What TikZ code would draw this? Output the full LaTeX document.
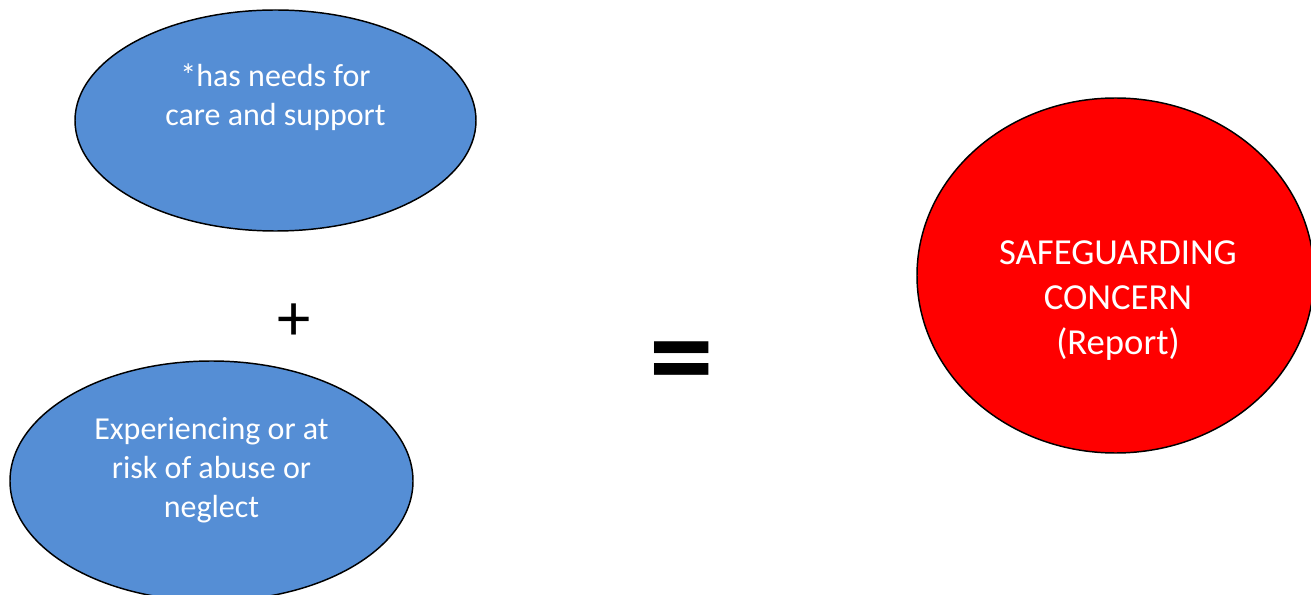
\documentclass[tikz,border=0pt]{standalone}
\usepackage{fontspec}
\setmainfont{Carlito}
\usetikzlibrary{shapes.geometric}
\definecolor{blueFill}{RGB}{85,142,213}
\definecolor{redFill}{RGB}{255,0,0}
\tikzset{
  blob/.style={ellipse, draw=black, line width=1.1pt, inner sep=0pt},
  bluetext/.style={text=white, align=center, inner sep=0pt, font=\fontsize{24pt}{29.25pt}\selectfont},
  redtext/.style={text=white, align=center, inner sep=0pt, font=\fontsize{27.5pt}{33.75pt}\selectfont},
  opsign/.style={text=black, inner sep=0pt}
}
\begin{document}
\begin{tikzpicture}[x=0.75pt,y=-0.75pt]
\useasboundingbox (0,0) rectangle (1311,595);
\clip (0,0) rectangle (1311,595);
\node[blob, fill=blueFill, minimum width=300.75pt, minimum height=165.75pt] (care) at (275.5,120.5) {};
\node[blob, fill=blueFill, minimum width=302.25pt, minimum height=180pt] (risk) at (211.5,481) {};
\node[blob, fill=redFill, minimum width=297.75pt, minimum height=266.25pt] (concern) at (1115.5,275.5) {};
\node[bluetext] (caretext) at (275.5,97.5) {*has needs for\\care and support};
\node[bluetext] (risktext) at (211.5,470) {Experiencing or at\\risk of abuse or\\neglect};
\node[redtext] (concerntext) at (1118,300.5) {SAFEGUARDING\\CONCERN\\(Report)};
\node[opsign, font=\fontsize{50pt}{50pt}\selectfont] (plus) at (294,322) {+};
\node[opsign, font=\fontsize{97pt}{97pt}\selectfont\bfseries] (equals) at (682,371) {=};
\end{tikzpicture}
\end{document}
